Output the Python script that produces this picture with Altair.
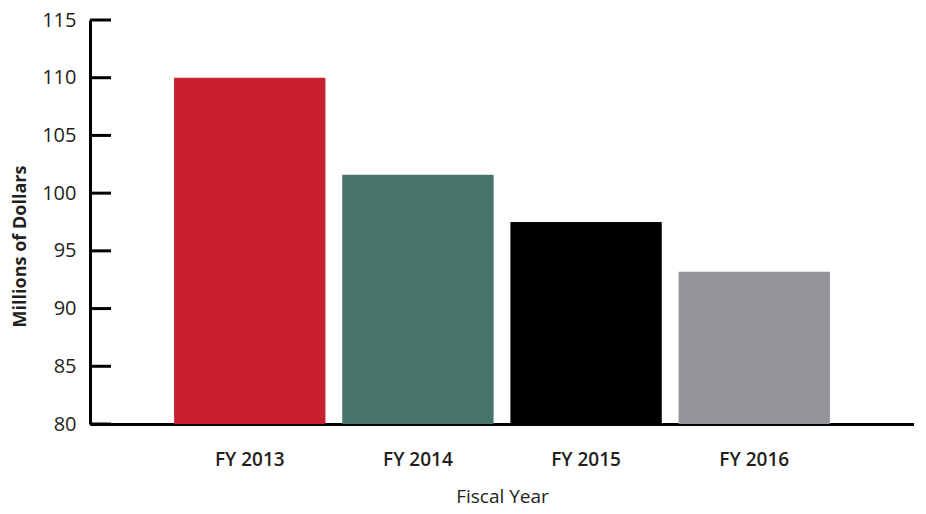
import altair as alt
import pandas as pd

years = ["FY 2013", "FY 2014", "FY 2015", "FY 2016"]
values = [110.0, 101.6, 97.5, 93.2]
colors = ["#C8202F", "#48756B", "#000000", "#939598"]
y_ticks = [80, 85, 90, 95, 100, 105, 110, 115]

df = pd.DataFrame({"year": years, "value": values, "color": colors})
ticks_df = pd.DataFrame({"tick": y_ticks})

FONT = "Open Sans"

yscale = alt.Scale(domain=[80, 115], nice=False, zero=False)

bars = alt.Chart(df).mark_bar(clip=True).encode(
    x=alt.X("year:N", sort=years,
            scale=alt.Scale(paddingInner=0.1, paddingOuter=0.5),
            axis=alt.Axis(title="Fiscal Year", labelAngle=0, ticks=False,
                          domainColor="#000000", domainWidth=3,
                          labelFont=FONT, labelFontSize=19, labelFontWeight=600,
                          labelColor="#231F20", labelPadding=26,
                          titleFont=FONT, titleFontSize=19, titleFontWeight=500,
                          titleColor="#231F20", titlePadding=18)),
    y=alt.Y("value:Q", scale=yscale,
            axis=alt.Axis(title="Millions of Dollars", values=y_ticks, ticks=False,
                          grid=False, domainColor="#000000", domainWidth=3,
                          labelFont=FONT, labelFontSize=20, labelColor="#231F20",
                          labelPadding=14,
                          titleFont=FONT, titleFontSize=18, titleFontWeight="bold",
                          titleColor="#231F20", titlePadding=12, titleY=226)),
    y2=alt.datum(80),
    color=alt.Color("color:N", scale=None),
)

tick_marks = alt.Chart(ticks_df).mark_rule(color="#000000", strokeWidth=3).encode(
    y=alt.Y("tick:Q", scale=yscale),
    x=alt.value(0),
    x2=alt.value(21),
)

chart = alt.layer(bars, tick_marks).properties(
    width=824, height=404, padding={"left": 3, "top": 2, "right": 0, "bottom": 0}
).configure_view(stroke=None).configure_axis(grid=False)

chart.save("out.html", embed_options={"renderer": "svg", "actions": False})
